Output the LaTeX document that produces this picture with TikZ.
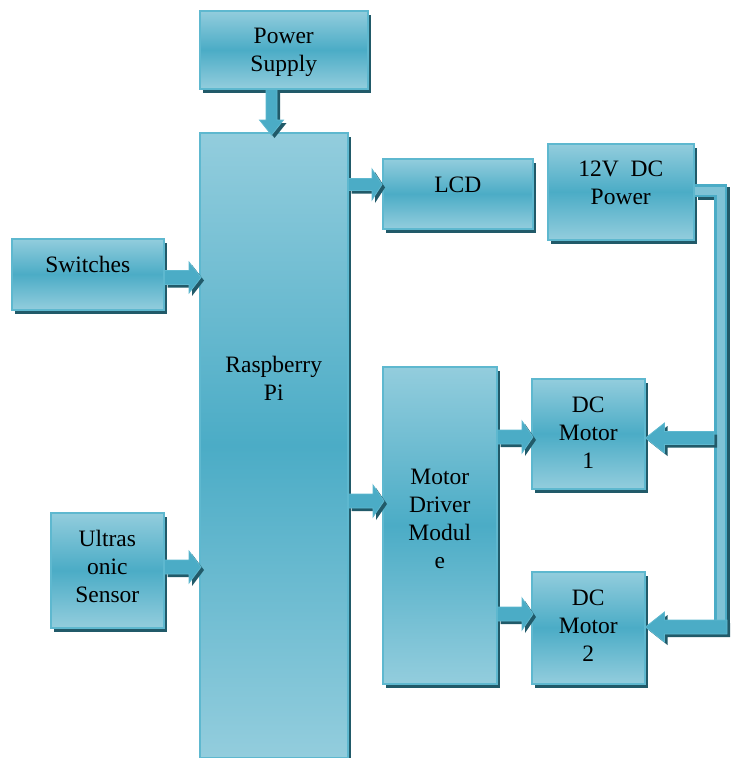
\documentclass[tikz,border=0pt]{standalone}
\usepackage{fontspec}
\setmainfont{Liberation Serif}
\usetikzlibrary{calc,shadows}
\definecolor{lite}{HTML}{93CDDD}
\definecolor{mid}{HTML}{4BACC6}
\definecolor{edge}{HTML}{5EB8CF}
\definecolor{shad}{HTML}{215A69}
\definecolor{pipein}{HTML}{7FC3D6}
\tikzset{
  blk/.style={draw=edge, line width=1.5pt, top color=lite, bottom color=lite, middle color=mid,
    inner sep=0pt, anchor=north west,
    drop shadow={shadow xshift=3pt, shadow yshift=-4pt, fill=shad, opacity=1}},
  txt/.style={font=\fontsize{23.5pt}{28pt}\selectfont, align=center, inner sep=0pt, text=black},
  arrfill/.style={fill=mid, draw=edge, line width=0.8pt, line join=miter},
  arrshad/.style={fill=shad},
}
% #1 style, #2 start, #3 end, #4 shaft half, #5 head half, #6 head length
\newcommand\arrpoly[6]{%
  \coordinate (as) at (#2); \coordinate (ae) at (#3);
  \coordinate (ah) at ($(ae)!#6!(as)$);
  \path[#1] ($(as)!#4!90:(ae)$) -- ($(ah)!#4!90:(ae)$) -- ($(ah)!#5!90:(ae)$) -- (ae)
     -- ($(ah)!#5!-90:(ae)$) -- ($(ah)!#4!-90:(ae)$) -- ($(as)!#4!-90:(ae)$) -- cycle;}
% #1 start, #2 end, #3 shaft half, #4 head half, #5 head length
\newcommand\blkarrow[5]{%
  \coordinate (bs0) at (#1); \coordinate (be0) at (#2);
  \coordinate (bs1) at ($(bs0)+(3pt,-3pt)$); \coordinate (be1) at ($(be0)+(3pt,-3pt)$);
  \arrpoly{arrshad}{bs1}{be1}{#3}{#4}{#5}
  \arrpoly{arrfill}{bs0}{be0}{#3}{#4}{#5}}
\begin{document}
\begin{tikzpicture}[x=1pt,y=-1pt]
\useasboundingbox (0,0) rectangle (734,758);
% boxes
\node[blk, minimum width=168pt, minimum height=78pt] (ps) at (199,10) {};
\node[blk, minimum width=148pt, minimum height=625pt] (pi) at (199,132) {};
\node[blk, minimum width=150pt, minimum height=70pt] (lcd) at (382,158) {};
\node[blk, minimum width=146pt, minimum height=96pt] (dcp) at (547,143) {};
\node[blk, minimum width=152pt, minimum height=71pt] (sw) at (11,238) {};
\node[blk, minimum width=113pt, minimum height=115pt] (us) at (50,512) {};
\node[blk, minimum width=114pt, minimum height=317pt] (md) at (382,366) {};
\node[blk, minimum width=113pt, minimum height=110pt] (m1) at (531,378) {};
\node[blk, minimum width=113pt, minimum height=112pt] (m2) at (531,571) {};
% texts
\node[txt] (tps) at (ps.center |- 0,52.2) {Power\\Supply};
\node[txt] (tpi) at (pi.center |- 0,378) {Raspberry\\Pi};
\node[txt] (tlcd) at (lcd.center |- 0,184.5) {LCD};
\node[txt] (tdcp) at (dcp.center |- 0,183) {12V\ \ DC\\Power};
\node[txt] (tsw) at (sw.center |- 0,264) {Switches};
\node[txt] (tus) at (us.center |- 0,566.5) {Ultras\\onic\\Sensor};
\node[txt] (tmd) at (md.center |- 0,519) {Motor\\Driver\\Modul\\e};
\node[txt] (tm1) at (m1.center |- 0,433) {DC\\Motor\\1};
\node[txt] (tm2) at (m2.center |- 0,625.5) {DC\\Motor\\2};
% power pipe from 12V DC
\coordinate (p0) at (dcp.east |- 0,190.5);
\coordinate (p1) at (720.5,190.5);
\coordinate (p2) at (720.5,633);
\draw[shad, line width=13pt, line join=miter, line cap=butt]
  ($(p0)+(3pt,-3pt)$) -- ($(p1)+(3pt,-3pt)$) -- ($(p2)+(3pt,-3pt)$);
\draw[mid, line width=13pt, line join=miter, line cap=butt] (p0) -- (p1) -- (p2);
\draw[pipein, line width=8pt, line join=miter, line cap=butt] (p0) -- (p1) -- (p2);
% arrows
\blkarrow{ps.south -| 271.5,0}{$(pi.north -| 271.5,0)+(0,3)$}{5.5pt}{12pt}{15pt}
\blkarrow{pi.east |- 0,184.5}{lcd.west |- 0,184.5}{6pt}{15.5pt}{10pt}
\blkarrow{sw.east |- 0,277.5}{$(pi.west |- 0,277.5)+(2,0)$}{7pt}{15.5pt}{12pt}
\blkarrow{us.east |- 0,567}{$(pi.west |- 0,567)+(2,0)$}{7pt}{16pt}{12pt}
\blkarrow{pi.east |- 0,501}{$(md.west |- 0,501)+(2,0)$}{7pt}{16pt}{11pt}
\blkarrow{md.east |- 0,437}{$(m1.west |- 0,437)+(2,0)$}{7pt}{16pt}{11pt}
\blkarrow{md.east |- 0,614}{$(m2.west |- 0,614)+(2,0)$}{7pt}{16pt}{11pt}
\blkarrow{714,438}{m1.east |- 0,438}{6.5pt}{15pt}{19pt}
\blkarrow{727,627}{m2.east |- 0,627}{7pt}{15pt}{19pt}
\end{tikzpicture}
\end{document}
